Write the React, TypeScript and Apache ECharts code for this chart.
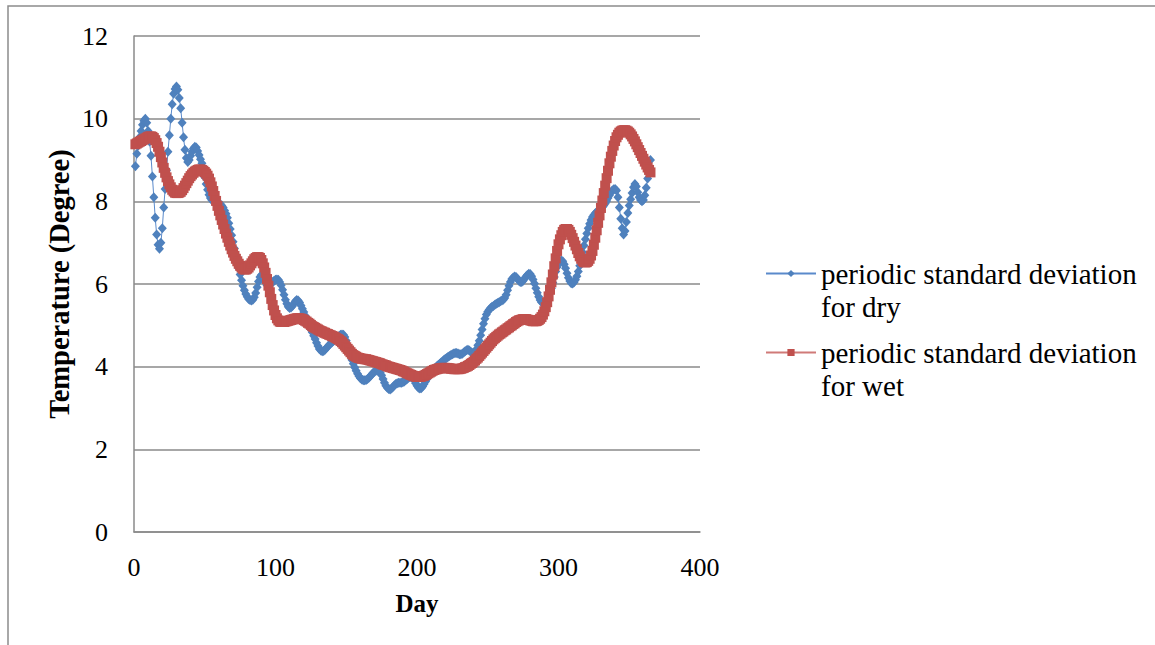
import React, { useEffect, useRef } from "react";
import * as echarts from "echarts";

const seriesNames = ["periodic standard deviation for dry", "periodic standard deviation for wet"];
const xTicks = { min: 0, max: 400, interval: 100 };
const yTicks = { min: 0, max: 12, interval: 2 };
const xTitle = "Day";
const yTitle = "Temperature (Degree)";

// Day 1..365
const dryValues = [
  8.85, 9.15, 9.35, 9.55, 9.7, 9.85, 9.95, 10.0, 9.9, 9.7,
  9.45, 9.1, 8.6, 8.1, 7.6, 7.2, 6.95, 6.85, 7.0, 7.35,
  7.85, 8.3, 8.75, 9.2, 9.6, 10.0, 10.35, 10.6, 10.72, 10.78,
  10.7, 10.5, 10.25, 9.9, 9.55, 9.25, 9.05, 8.95, 9.0, 9.1,
  9.2, 9.28, 9.32, 9.3, 9.22, 9.12, 9.02, 8.92, 8.75, 8.58,
  8.42, 8.28, 8.16, 8.08, 8.03, 8.0, 7.99, 7.98, 7.97, 7.95,
  7.93, 7.9, 7.85, 7.78, 7.7, 7.6, 7.47, 7.33, 7.18, 7.02,
  6.86, 6.7, 6.54, 6.38, 6.23, 6.09, 5.96, 5.85, 5.76, 5.69,
  5.64, 5.61, 5.6, 5.62, 5.68, 5.78, 5.92, 6.06, 6.17, 6.22,
  6.2, 6.12, 6.03, 5.97, 5.95, 5.97, 6.01, 6.05, 6.08, 6.1,
  6.11, 6.1, 6.05, 5.97, 5.86, 5.74, 5.62, 5.52, 5.45, 5.42,
  5.43, 5.47, 5.53, 5.58, 5.61, 5.6, 5.55, 5.48, 5.4, 5.32,
  5.23, 5.14, 5.05, 4.97, 4.9, 4.83, 4.75, 4.67, 4.58, 4.5,
  4.43, 4.39, 4.37, 4.38, 4.41, 4.45, 4.49, 4.53, 4.56, 4.59,
  4.62, 4.65, 4.68, 4.71, 4.74, 4.77, 4.78, 4.77, 4.72, 4.63,
  4.52, 4.4, 4.28, 4.17, 4.07, 3.98, 3.9, 3.83, 3.77, 3.72,
  3.69, 3.67, 3.67, 3.68, 3.7, 3.73, 3.77, 3.81, 3.85, 3.88,
  3.9, 3.91, 3.9, 3.86, 3.79, 3.7, 3.61, 3.54, 3.49, 3.46,
  3.45, 3.47, 3.51, 3.55, 3.58, 3.6, 3.61, 3.61, 3.61, 3.62,
  3.64, 3.67, 3.7, 3.73, 3.75, 3.75, 3.72, 3.67, 3.6, 3.54,
  3.49, 3.47, 3.48, 3.52, 3.58, 3.64, 3.7, 3.76, 3.81, 3.86,
  3.9, 3.94, 3.98, 4.01, 4.04, 4.07, 4.1, 4.13, 4.16, 4.19,
  4.21, 4.24, 4.26, 4.28, 4.3, 4.32, 4.33, 4.33, 4.32, 4.3,
  4.3, 4.31, 4.34, 4.37, 4.4, 4.41, 4.39, 4.36, 4.33, 4.32,
  4.35, 4.42, 4.52, 4.63, 4.76, 4.9, 5.04, 5.16, 5.26, 5.33,
  5.38, 5.42, 5.45, 5.47, 5.5, 5.52, 5.54, 5.56, 5.58, 5.6,
  5.62, 5.66, 5.74, 5.85, 5.96, 6.05, 6.12, 6.16, 6.18, 6.17,
  6.13, 6.08, 6.05, 6.05, 6.08, 6.13, 6.18, 6.22, 6.25, 6.24,
  6.19, 6.11, 6.01, 5.9, 5.79, 5.69, 5.61, 5.56, 5.54, 5.55,
  5.58, 5.63, 5.7, 5.79, 5.9, 6.03, 6.17, 6.3, 6.41, 6.5,
  6.55, 6.57, 6.55, 6.48, 6.38, 6.26, 6.15, 6.07, 6.02, 6.01,
  6.04, 6.1, 6.19, 6.3, 6.44, 6.6, 6.77, 6.93, 7.08, 7.22,
  7.35, 7.46, 7.55, 7.62, 7.67, 7.71, 7.74, 7.77, 7.8, 7.83,
  7.86, 7.9, 7.95, 8.01, 8.08, 8.15, 8.21, 8.26, 8.29, 8.3,
  8.26, 8.1, 7.85, 7.58, 7.35, 7.2, 7.28, 7.5, 7.72, 7.9,
  8.05, 8.2, 8.34, 8.42, 8.36, 8.22, 8.1, 8.03, 8.0, 8.03,
  8.15, 8.33, 8.55, 8.78, 9.0,
];

const wetValues = [
  9.38, 9.4, 9.42, 9.44, 9.46, 9.48, 9.5, 9.52, 9.54, 9.56,
  9.57, 9.57, 9.56, 9.53, 9.48, 9.41, 9.32, 9.2, 9.07, 8.94,
  8.81, 8.69, 8.58, 8.49, 8.41, 8.34, 8.28, 8.24, 8.21, 8.2,
  8.2, 8.21, 8.23, 8.27, 8.32, 8.38, 8.44, 8.5, 8.56, 8.61,
  8.65, 8.69, 8.72, 8.74, 8.76, 8.77, 8.77, 8.76, 8.74, 8.71,
  8.67, 8.62, 8.55, 8.46, 8.36, 8.25, 8.13, 8.01, 7.89, 7.77,
  7.66, 7.55, 7.44, 7.33, 7.22, 7.12, 7.02, 6.93, 6.84, 6.76,
  6.68, 6.61, 6.55, 6.49, 6.44, 6.4, 6.37, 6.35, 6.35, 6.37,
  6.4, 6.45, 6.5, 6.55, 6.6, 6.63, 6.65, 6.65, 6.63, 6.58,
  6.5, 6.4, 6.27, 6.12, 5.96, 5.8, 5.64, 5.49, 5.36, 5.25,
  5.17, 5.12, 5.09, 5.08, 5.08, 5.08, 5.09, 5.1, 5.11, 5.12,
  5.13, 5.14, 5.15, 5.16, 5.17, 5.17, 5.17, 5.16, 5.15, 5.13,
  5.11, 5.09, 5.06, 5.04, 5.01, 4.98, 4.96, 4.94, 4.92, 4.9,
  4.88, 4.86, 4.85, 4.83, 4.82, 4.8, 4.79, 4.77, 4.76, 4.74,
  4.73, 4.71, 4.69, 4.67, 4.65, 4.62, 4.59, 4.55, 4.51, 4.47,
  4.43, 4.39, 4.35, 4.31, 4.28, 4.26, 4.24, 4.22, 4.21, 4.2,
  4.19, 4.19, 4.18, 4.18, 4.17, 4.16, 4.15, 4.14, 4.13, 4.12,
  4.11, 4.1, 4.09, 4.08, 4.06, 4.05, 4.04, 4.03, 4.01, 4.0,
  3.99, 3.98, 3.97, 3.96, 3.95, 3.94, 3.93, 3.92, 3.91, 3.89,
  3.88, 3.86, 3.84, 3.83, 3.81, 3.8, 3.78, 3.77, 3.76, 3.75,
  3.75, 3.75, 3.76, 3.77, 3.78, 3.8, 3.82, 3.84, 3.86, 3.88,
  3.9, 3.92, 3.93, 3.94, 3.95, 3.96, 3.96, 3.97, 3.97, 3.97,
  3.97, 3.96, 3.96, 3.95, 3.95, 3.94, 3.94, 3.94, 3.94, 3.94,
  3.95, 3.96, 3.97, 3.99, 4.0, 4.02, 4.04, 4.07, 4.09, 4.12,
  4.15, 4.19, 4.22, 4.26, 4.3, 4.34, 4.38, 4.42, 4.46, 4.5,
  4.54, 4.58, 4.62, 4.66, 4.69, 4.72, 4.75, 4.78, 4.8, 4.83,
  4.85, 4.88, 4.9, 4.93, 4.95, 4.98, 5.0, 5.03, 5.05, 5.08,
  5.1, 5.12, 5.13, 5.14, 5.15, 5.15, 5.15, 5.14, 5.13, 5.12,
  5.11, 5.1, 5.1, 5.1, 5.11, 5.13, 5.16, 5.2, 5.26, 5.34,
  5.44, 5.56, 5.7, 5.86, 6.04, 6.23, 6.43, 6.62, 6.8, 6.96,
  7.08, 7.18, 7.26, 7.31, 7.33, 7.33, 7.31, 7.26, 7.19, 7.11,
  7.02, 6.93, 6.84, 6.75, 6.67, 6.61, 6.56, 6.53, 6.52, 6.53,
  6.56, 6.61, 6.69, 6.8, 6.95, 7.12, 7.3, 7.48, 7.66, 7.84,
  8.02, 8.2, 8.38, 8.56, 8.74, 8.92, 9.08, 9.22, 9.35, 9.46,
  9.55, 9.61, 9.66, 9.69, 9.71, 9.72, 9.72, 9.71, 9.69, 9.66,
  9.62, 9.57, 9.51, 9.45, 9.38, 9.31, 9.24, 9.17, 9.1, 9.03,
  8.96, 8.89, 8.82, 8.76, 8.7,
];

const FONT = "'Liberation Serif', 'Times New Roman', serif";
const GRID_GRAY = "#8a8a8a";

export default function App() {
  const ref = useRef<HTMLDivElement>(null);

  useEffect(() => {
    if (!ref.current) return;
    const chart = echarts.init(ref.current, undefined, { renderer: "svg" });
    const dryData = dryValues.map((v, i) => [i + 1, v]);
    const wetData = wetValues.map((v, i) => [i + 1, v]);

    chart.setOption({
      animation: false,
      backgroundColor: "#ffffff",
      grid: { left: 134, right: 455, top: 36, bottom: 113, containLabel: false },
      xAxis: {
        type: "value",
        min: xTicks.min,
        max: xTicks.max,
        interval: xTicks.interval,
        name: xTitle,
        nameLocation: "middle",
        nameGap: 59,
        nameTextStyle: { fontFamily: FONT, fontSize: 25, fontWeight: "bold", color: "#000" },
        axisLine: { show: true, lineStyle: { color: GRID_GRAY, width: 1.5 } },
        axisTick: { show: false },
        splitLine: { show: false },
        axisLabel: { fontFamily: FONT, fontSize: 26, color: "#000", margin: 22 },
      },
      yAxis: {
        type: "value",
        min: yTicks.min,
        max: yTicks.max,
        interval: yTicks.interval,
        name: yTitle,
        nameLocation: "middle",
        nameGap: 60,
        nameTextStyle: { fontFamily: FONT, fontSize: 28.5, fontWeight: "bold", color: "#000" },
        axisLine: { show: true, lineStyle: { color: GRID_GRAY, width: 1.5 } },
        axisTick: { show: false },
        splitLine: { show: true, lineStyle: { color: GRID_GRAY, width: 1.5 } },
        axisLabel: { fontFamily: FONT, fontSize: 26, color: "#000", margin: 26 },
      },
      legend: {
        orient: "vertical",
        left: 765,
        top: 224,
        padding: 0,
        itemWidth: 50,
        itemHeight: 9,
        itemGap: -20,
        // blank first line keeps the first text line level with the legend icon
        formatter: (name: string) => " \n" + name.replace(" for ", "\nfor "),
        textStyle: {
          fontFamily: FONT,
          fontSize: 29,
          color: "#000",
          lineHeight: 33,
        },
        data: seriesNames,
      },
      graphic: [
        {
          type: "rect",
          silent: true,
          z: -1,
          shape: { x: 8, y: 6, width: 1300, height: 800 },
          style: { fill: "none", stroke: "#8c8c8c", lineWidth: 1.5 },
        },
      ],
      series: [
        {
          name: seriesNames[0],
          type: "line",
          data: dryData,
          symbol: "diamond",
          symbolSize: [9, 10],
          showSymbol: true,
          color: "#4F81BD",
          lineStyle: { color: "#5A8ACB", width: 1 },
          itemStyle: { color: "#4F81BD", borderWidth: 0 },
          z: 2,
        },
        {
          name: seriesNames[1],
          type: "line",
          data: wetData,
          symbol: "rect",
          symbolSize: 10,
          showSymbol: true,
          color: "#C0504D",
          lineStyle: { color: "#D07A78", width: 1.5 },
          itemStyle: { color: "#C0504D", borderWidth: 0 },
          z: 3,
        },
      ],
    });

    return () => chart.dispose();
  }, []);

  return (
    <div
      ref={ref}
      style={{ position: "fixed", left: 0, top: 0, width: 1155, height: 645, background: "#fff" }}
    />
  );
}
